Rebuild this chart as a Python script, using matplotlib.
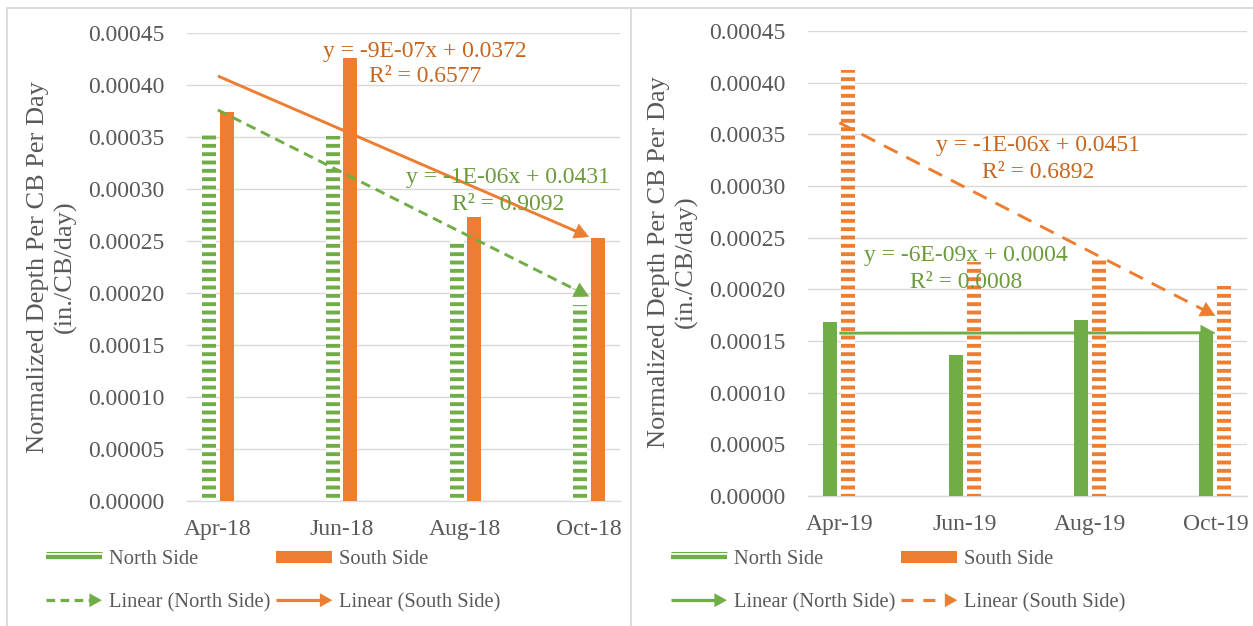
import numpy as np
import matplotlib
matplotlib.use('Agg')
import matplotlib.pyplot as plt
from matplotlib.lines import Line2D
from matplotlib.patches import Polygon, Rectangle
from matplotlib.legend_handler import HandlerBase

# ---------------- data ----------------
categories_2018 = ['Apr-18', 'Jun-18', 'Aug-18', 'Oct-18']
north_2018 = [0.000355, 0.000351, 0.000251, 0.000189]
south_2018 = [0.000374, 0.000426, 0.000273, 0.000253]

categories_2019 = ['Apr-19', 'Jun-19', 'Aug-19', 'Oct-19']
north_2019 = [0.000168, 0.000136, 0.000170, 0.000157]
south_2019 = [0.000412, 0.000226, 0.000230, 0.000203]

y_ticks = [0.0, 0.00005, 0.00010, 0.00015, 0.00020, 0.00025, 0.00030, 0.00035, 0.00040, 0.00045]

eq_2018_south = ['y = -9E-07x + 0.0372', 'R² = 0.6577']
eq_2018_north = ['y = -1E-06x + 0.0431', 'R² = 0.9092']
eq_2019_south = ['y = -1E-06x + 0.0451', 'R² = 0.6892']
eq_2019_north = ['y = -6E-09x + 0.0004', 'R² = 0.0008']

y_label = 'Normalized Depth Per CB Per Day\n(in./CB/day)'
legend_labels = ['North Side', 'South Side', 'Linear (North Side)', 'Linear (South Side)']

# ---------------- style ----------------
GREEN = '#70AD47'
ORANGE = '#ED7D31'
GREEN_TXT = '#6B9B3A'
ORANGE_TXT = '#C8661E'
TXT = '#595959'
GRID = '#D9D9D9'
FS = 17
FS_LAB = 19
FS_LEG = 14.8
TLW = 2.1

plt.rcParams['font.family'] = ['Liberation Serif', 'DejaVu Serif']
plt.rcParams['hatch.linewidth'] = 2.8

W, H = 1253, 626
fig = plt.figure(figsize=(W / 100, H / 100), dpi=100)


def fx(px):
    return px / W


def fy(py):
    return 1 - py / H


class DoubleLineHandler(HandlerBase):
    def create_artists(self, legend, orig, xd, yd, w, h, fs, trans):
        c = orig.get_color()
        yc = h / 2 - yd
        a = Line2D([-xd, w - xd], [yc + 3.8, yc + 3.8], color=c, lw=0.8,
                   solid_capstyle='butt', transform=trans)
        b = Line2D([-xd, w - xd], [yc, yc], color=c, lw=3.1,
                   solid_capstyle='butt', transform=trans)
        return [a, b]


class BlockHandler(HandlerBase):
    def create_artists(self, legend, orig, xd, yd, w, h, fs, trans):
        c = orig.get_color()
        yc = h / 2 - yd
        r = Rectangle((-xd, yc - 4.3), w, 8.6, facecolor=c, edgecolor='none',
                      transform=trans)
        return [r]


class ArrowHandler(HandlerBase):
    def __init__(self, ls):
        super().__init__()
        self.ls = ls

    def create_artists(self, legend, orig, xd, yd, w, h, fs, trans):
        c = orig.get_color()
        yc = h / 2 - yd
        hl, hw = 9.0, 5.0
        ln = Line2D([-xd, w - xd - hl + 0.5], [yc, yc], color=c, lw=2.3,
                    ls=self.ls, dash_capstyle='butt', solid_capstyle='butt',
                    transform=trans)
        tri = Polygon([[w - xd - hl, yc - hw], [w - xd, yc], [w - xd - hl, yc + hw]],
                      closed=True, facecolor=c, edgecolor='none', transform=trans)
        return [ln, tri]


def trend(ax, y, color, ls):
    x = np.arange(len(y))
    m, b = np.polyfit(x, y, 1)
    x0, x1 = x[0], x[-1]
    xe = x1 - 0.06
    ax.plot([x0, xe], [m * x0 + b, m * xe + b], color=color, lw=TLW, ls=ls,
            dash_capstyle='butt', solid_capstyle='butt', zorder=4)
    xs = x1 - 0.13
    ax.annotate('', xy=(x1, m * x1 + b), xytext=(xs, m * xs + b),
                arrowprops=dict(arrowstyle='-|>,head_length=0.55,head_width=0.3',
                                mutation_scale=18, color=color, lw=0.5,
                                shrinkA=0, shrinkB=0), zorder=5)


def panel(rect, cats, north, south, north_hatched, north_ls, south_ls):
    ax = fig.add_axes(rect)
    x = np.arange(len(cats))
    bw = 0.112
    off = 0.071
    if north_hatched:
        ax.bar(x - off, north, bw, facecolor='white', edgecolor=GREEN, lw=0,
               hatch='--', zorder=3)
        ax.bar(x + off, south, bw, color=ORANGE, lw=0, zorder=3)
    else:
        ax.bar(x - off, north, bw, color=GREEN, lw=0, zorder=3)
        ax.bar(x + off, south, bw, facecolor='white', edgecolor=ORANGE, lw=0,
               hatch='--', zorder=3)
    trend(ax, north, GREEN, north_ls)
    trend(ax, south, ORANGE, south_ls)
    ax.set_xlim(-0.25, 3.25)
    ax.set_ylim(0, 0.00045)
    ax.set_yticks(y_ticks)
    ax.set_yticklabels(['%.5f' % v for v in y_ticks])
    ax.set_xticks(x)
    ax.set_xticklabels(cats)
    ax.tick_params(axis='both', length=0, labelsize=FS, labelcolor=TXT)
    ax.tick_params(axis='y', pad=16)
    ax.tick_params(axis='x', pad=13)
    for s in ['top', 'right', 'left']:
        ax.spines[s].set_visible(False)
    ax.spines['bottom'].set_color(GRID)
    ax.spines['bottom'].set_linewidth(1.0)
    ax.grid(axis='y', color=GRID, lw=1.0, zorder=0)
    ax.set_axisbelow(True)
    return ax


ax1 = panel([fx(187), fy(501), fx(620) - fx(187), fy(33.3) - fy(501)],
            categories_2018, north_2018, south_2018, True, (0, (3.4, 2.1)), '-')
ax2 = panel([fx(808), fy(496), fx(1246.7) - fx(808), fy(31) - fy(496)],
            categories_2019, north_2019, south_2019, False, '-', (0, (5.2, 3.4)))

# y-axis titles
fig.text(fx(52), fy(267), y_label, rotation=90, ha='center', va='center',
         fontsize=FS_LAB, color=TXT, linespacing=1.25)
fig.text(fx(673), fy(262), y_label, rotation=90, ha='center', va='center',
         fontsize=FS_LAB, color=TXT, linespacing=1.25)


# trendline equations
def eq(lines, cx, cy1, cy2, color):
    fig.text(fx(cx), fy(cy1), lines[0], ha='center', va='center', fontsize=FS, color=color)
    fig.text(fx(cx), fy(cy2), lines[1], ha='center', va='center', fontsize=FS, color=color)


eq(eq_2018_south, 425, 51, 77, ORANGE_TXT)
eq(eq_2018_north, 508, 178, 204, GREEN_TXT)
eq(eq_2019_south, 1038, 146, 172, ORANGE_TXT)
eq(eq_2019_north, 966, 256, 282, GREEN_TXT)


# legends
def make_legend(x_px, y_px, north_ls, south_ls):
    hN = Line2D([], [], color=GREEN)
    hS = Line2D([], [], color=ORANGE)
    hLN = Line2D([], [], color=GREEN)
    hLS = Line2D([], [], color=ORANGE)
    hm = {hN: DoubleLineHandler(), hS: BlockHandler(),
          hLN: ArrowHandler(north_ls), hLS: ArrowHandler(south_ls)}
    leg = fig.legend([hN, hLN, hS, hLS],
                     [legend_labels[0], legend_labels[2], legend_labels[1], legend_labels[3]],
                     ncol=2, loc='upper left', bbox_to_anchor=(fx(x_px), fy(y_px)),
                     frameon=False, fontsize=FS_LEG, handler_map=hm, handlelength=2.72,
                     handletextpad=0.34, columnspacing=0.3, labelspacing=1.15,
                     borderpad=0, borderaxespad=0)
    for t in leg.get_texts():
        t.set_color(TXT)
    return leg


make_legend(46, 550, (0, (2.7, 1.7)), '-')
make_legend(671, 550, '-', (0, (3.75, 3.1)))

# panel borders
for (xs, ys) in [([7, 7], [8, 626]), ([7, 1253], [8, 8]), ([630.5, 630.5], [8, 626])]:
    fig.add_artist(Line2D([fx(v) for v in xs], [fy(v) for v in ys], color=GRID, lw=1.3))

fig.savefig('out.png', dpi=100, facecolor='white')
